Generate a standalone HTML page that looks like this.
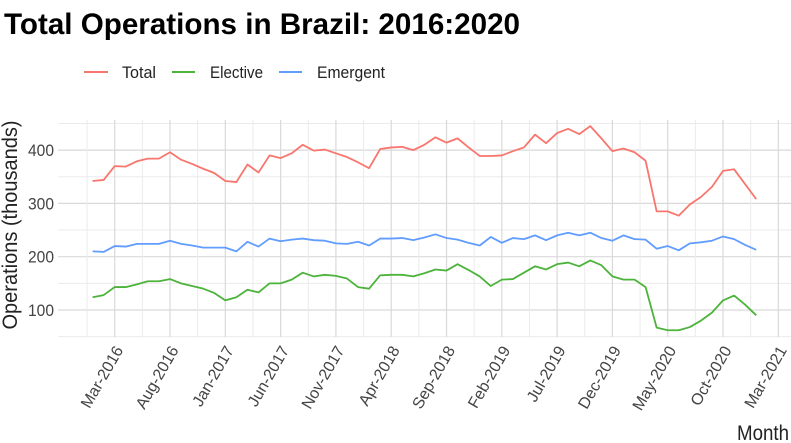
<!DOCTYPE html>
<html><head><meta charset="utf-8"><style>
body{margin:0;background:#fff;}
svg{display:block;font-family:"Liberation Sans",sans-serif;}
</style></head><body>
<svg id="chart" width="791" height="443">
<text x="4" y="34" font-size="30" font-weight="bold" fill="#000" textLength="516" lengthAdjust="spacingAndGlyphs">Total Operations in Brazil: 2016:2020</text>
<g>
<g><line x1="84" y1="72" x2="108" y2="72" stroke="#F8766D" stroke-width="2"/><text x="122" y="78" font-size="17" fill="#222" textLength="34" lengthAdjust="spacingAndGlyphs">Total</text></g>
<g><line x1="172" y1="72" x2="195" y2="72" stroke="#4CB33B" stroke-width="2"/><text x="210" y="78" font-size="17" fill="#222" textLength="53" lengthAdjust="spacingAndGlyphs">Elective</text></g>
<g><line x1="279" y1="72" x2="302" y2="72" stroke="#619CFF" stroke-width="2"/><text x="317" y="78" font-size="17" fill="#222" textLength="68" lengthAdjust="spacingAndGlyphs">Emergent</text></g>
</g>
<g id="grid"></g><g id="axes"></g><g id="series"></g>
<text transform="translate(17,225) rotate(-90)" text-anchor="middle" font-size="21" fill="#222" textLength="209" lengthAdjust="spacingAndGlyphs">Operations (thousands)</text>
<text x="789" y="440" text-anchor="end" font-size="21" fill="#222" textLength="52" lengthAdjust="spacingAndGlyphs">Month</text>
</svg>
<script>
const totalValues=[342,344,370,369,379,384,384,396,382,374,365,357,342,340,373,358,390,385,394,410,399,401,394,387,377,366,402,405,406,400,410,424,414,422,405,389,389,390,398,405,429,413,432,440,430,445,422,398,403,396,380,285,285,277,298,312,331,361,364,336,308];
const electiveValues=[124,128,143,143,148,154,154,158,150,145,140,132,118,124,138,133,150,150,157,170,163,166,164,159,143,140,165,166,166,163,169,176,174,186,175,163,145,157,158,170,182,176,186,189,182,193,184,163,157,157,143,67,62,62,68,80,95,118,127,110,90];
const emergentValues=[210,209,220,219,224,224,224,230,224,221,217,217,217,210,228,219,234,229,232,234,231,230,225,224,228,221,234,234,235,231,236,242,235,232,226,221,237,226,235,233,240,231,240,245,240,245,235,230,240,233,232,215,220,212,225,227,230,238,233,222,213];
const xTickLabels=["Mar-2016","Aug-2016","Jan-2017","Jun-2017","Nov-2017","Apr-2018","Sep-2018","Feb-2019","Jul-2019","Dec-2019","May-2020","Oct-2020","Mar-2021"];
const xTickMonths=[2,7,12,17,22,27,32,37,42,47,52,57,62];
const yTicks=[100,200,300,400];
const yMinor=[50,150,250,350,450];
const ns="http://www.w3.org/2000/svg";
const X=m=>92.6+m*11.06;
const Y=v=>363.3-v*0.533;
const L=58,R=791,T=120,B=337;
function mk(t,a,p){const e=document.createElementNS(ns,t);for(const k in a)e.setAttribute(k,a[k]);p.appendChild(e);return e;}
const g=document.getElementById('grid'),ax=document.getElementById('axes'),s=document.getElementById('series');
yMinor.forEach(v=>{const l=mk('line',{x1:L,x2:R,y1:Y(v),y2:Y(v),stroke:'#ebebeb','stroke-width':1},g);

});
yTicks.forEach(v=>{const l=mk('line',{x1:L,x2:R,y1:Y(v),y2:Y(v),stroke:'#d9d9d9','stroke-width':1.2},g);


const t=mk('text',{x:54,y:Y(v)+6,'text-anchor':'end','font-size':17,fill:'#444',textLength:26,lengthAdjust:'spacingAndGlyphs'},ax);t.textContent=v;

});
xTickMonths.forEach((m,i)=>{const mx=m-2.5;const l2=mk('line',{x1:X(mx),x2:X(mx),y1:T,y2:B,stroke:'#ebebeb','stroke-width':1},g);


const l=mk('line',{x1:X(m),x2:X(m),y1:T,y2:B,stroke:'#d9d9d9','stroke-width':1.2},g);


const t=mk('text',{transform:`translate(${X(m)+9},${B+13}) rotate(-60)`,'text-anchor':'end','font-size':16,fill:'#444'},ax);t.textContent=xTickLabels[i];

});
[[totalValues,'#F8766D','line-total'],[electiveValues,'#4CB33B','line-elective'],[emergentValues,'#619CFF','line-emergent']].forEach(([d,c,n])=>{
const p=mk('polyline',{points:d.map((v,i)=>X(i)+','+Y(v)).join(' '),fill:'none',stroke:c,'stroke-width':1.8,'stroke-linejoin':'round'},s);

});
</script>
</body></html>
